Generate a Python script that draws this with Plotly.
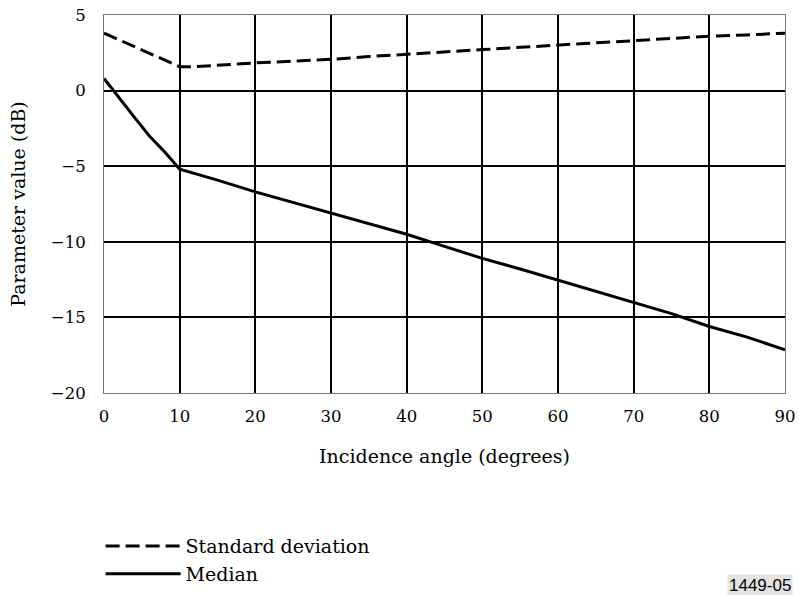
import plotly.graph_objects as go

# Data
angle_std = [0, 2, 4, 6, 8, 10, 12, 15, 20, 25, 30, 35, 40, 45, 50, 55, 60, 65, 70, 75, 80, 85, 90]
std_dev = [3.8, 3.35, 2.92, 2.48, 2.04, 1.58, 1.58, 1.68, 1.83, 1.95, 2.07, 2.25, 2.42, 2.57, 2.71, 2.86, 3.03, 3.16, 3.3, 3.45, 3.6, 3.68, 3.8]

angle_med = [0, 2, 4, 6, 8, 10, 15, 20, 25, 30, 35, 40, 45, 50, 55, 60, 65, 70, 75, 80, 85, 90]
median = [0.8, -0.5, -1.75, -3.0, -4.05, -5.2, -5.92, -6.7, -7.4, -8.1, -8.8, -9.5, -10.3, -11.1, -11.8, -12.55, -13.25, -14.0, -14.75, -15.6, -16.3, -17.15]

x_ticks = [0, 10, 20, 30, 40, 50, 60, 70, 80, 90]
y_ticks = [5, 0, -5, -10, -15, -20]

SERIF = "DejaVu Serif"
SANS = "Liberation Sans, DejaVu Sans"

fig = go.Figure()
fig.add_trace(go.Scatter(x=angle_std, y=std_dev, mode="lines", name="Standard deviation",
                         legend="legend",
                         line=dict(color="black", width=3, dash="14px,6px")))
fig.add_trace(go.Scatter(x=angle_med, y=median, mode="lines", name="Median",
                         legend="legend2",
                         line=dict(color="black", width=3)))

legend_common = dict(x=-0.005, xanchor="left", yanchor="top", itemwidth=75,
                     bgcolor="rgba(0,0,0,0)", tracegroupgap=0,
                     font=dict(size=19, family=SERIF))

fig.update_layout(
    width=799, height=595,
    margin=dict(l=104, r=14, t=15, b=202, autoexpand=False),
    paper_bgcolor="white", plot_bgcolor="white",
    font=dict(family=SERIF, size=17, color="black"),
    showlegend=True,
    legend=dict(y=-0.3546, **legend_common),
    legend2=dict(y=-0.4286, **legend_common),
    annotations=[dict(text="1449-05", xref="paper", yref="paper", x=1.012, y=-0.4788,
                      xanchor="right", yanchor="top", showarrow=False,
                      font=dict(family=SANS, size=17, color="black"),
                      bgcolor="#e3e3e3", borderpad=1)],
)
fig.update_xaxes(range=[0, 90], tickvals=x_ticks, ticktext=[str(v) for v in x_ticks],
                 showgrid=True, gridcolor="black", gridwidth=2,
                 showline=True, linecolor="#777", linewidth=1, mirror=True,
                 ticks="outside", ticklen=8, tickcolor="rgba(0,0,0,0)",
                 zeroline=False, tickfont=dict(size=16.5, family=SERIF),
                 title=dict(text="Incidence angle (degrees)", font=dict(size=19, family=SERIF), standoff=24))
fig.update_yaxes(range=[-20, 5], tickvals=y_ticks,
                 showgrid=True, gridcolor="black", gridwidth=2,
                 showline=True, linecolor="#777", linewidth=1, mirror=True,
                 ticks="outside", ticklen=14, tickcolor="rgba(0,0,0,0)",
                 zeroline=False, tickfont=dict(size=16.5, family=SERIF),
                 title=dict(text="Parameter value (dB)", font=dict(size=19, family=SERIF), standoff=20))

fig.write_html("out.html")
